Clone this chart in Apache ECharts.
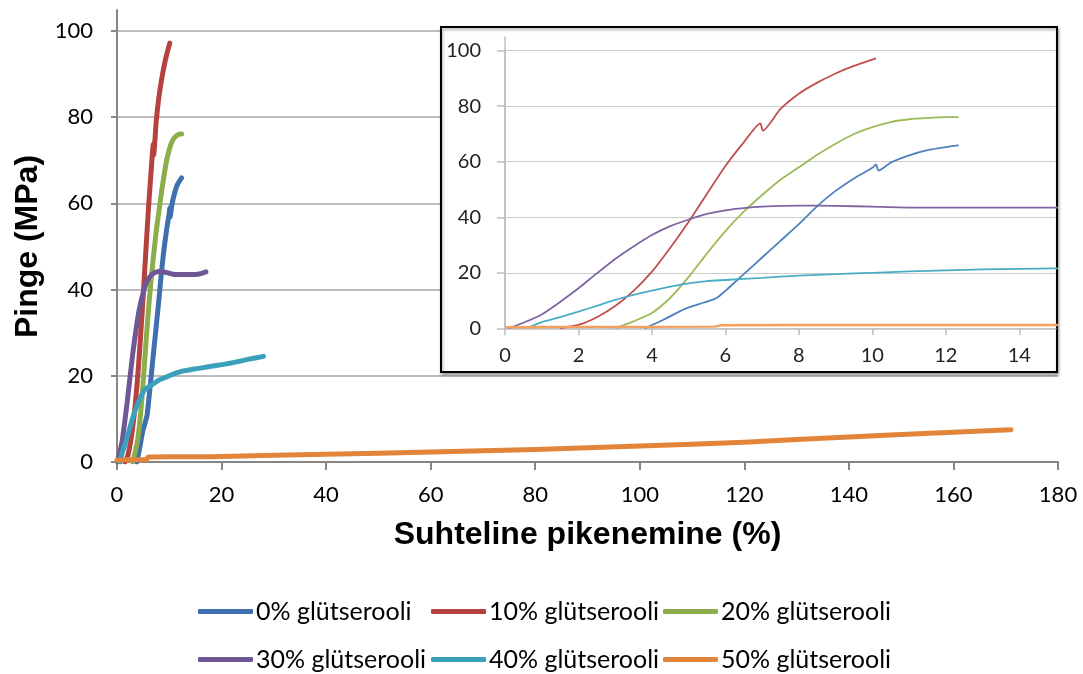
<!DOCTYPE html>
<html><head><meta charset="utf-8">
<script src="https://cdn.jsdelivr.net/npm/echarts@6/dist/echarts.min.js"></script>
<style>html,body{margin:0;padding:0;background:#fff}#c{width:1083px;height:674px}</style>
</head><body><div id="c"></div>
<script>
// ---- data ----
const seriesNames = ['0% glütserooli','10% glütserooli','20% glütserooli','30% glütserooli','40% glütserooli','50% glütserooli'];
const s0 = [[3.8,0],[4.3,3],[4.9,7],[5.4,9.2],[5.75,10.8],[6,13.5],[6.5,19.5],[7,25.5],[7.5,31.5],[8,37.5],[8.5,44],[9,49.5],[9.5,54],[10,57.8],[10.1,59],[10.17,56.8],[10.5,59.7],[11,62.3],[11.5,64.2],[12,65.3],[12.35,65.9]];
const s1 = [[1.5,0],[2,1.2],[2.5,4],[3,8],[3.5,13.5],[4,20.4],[4.5,29],[5,38.4],[5.5,48.5],[6,58.5],[6.5,67],[6.95,73.8],[7.02,71.2],[7.5,79],[8,84.5],[8.5,88.5],[9,91.8],[9.5,94.5],[10.1,97.2]];
const s2 = [[3,0],[3.5,2.5],[4,5.5],[4.5,11],[5,18.5],[5.5,27],[6,35],[6.5,42],[7,48],[7.5,53.5],[8,58],[8.5,62.5],[9,66.5],[9.5,70],[10,72.5],[10.5,74.3],[11,75.3],[11.5,75.8],[12,76.1],[12.35,76.1]];
const s3 = [[0.1,0],[0.5,2],[1,5],[1.5,9.5],[2,14.4],[2.5,19.8],[3,25],[3.5,29.5],[4,33.6],[4.5,36.8],[5,39.2],[5.5,41.2],[6,42.5],[6.5,43.3],[7,43.8],[8,44.2],[9,44.1],[10,43.8],[11,43.5],[13,43.5],[15,43.5],[16,43.7],[17,44.1]];
const s4 = [[0.6,0],[1,2.2],[1.5,4],[2,6],[2.5,8.1],[3,10.2],[3.5,12],[4,13.6],[4.5,15],[5,16.2],[5.5,17],[6,17.4],[7,18.2],[8,19],[9,19.5],[10,20],[11,20.5],[12,20.9],[13,21.2],[14,21.4],[15,21.6],[18,22.2],[22,23],[25,23.8],[28,24.5]];
const s5 = [[0,0.4],[2,0.5],[5.7,0.6],[5.9,1.1],[10,1.2],[15,1.2],[20,1.3],[40,1.8],[60,2.3],[80,2.9],[100,3.7],[120,4.6],[140,5.8],[160,6.9],[171,7.5]];
const seriesData = [s0,s1,s2,s3,s4,s5];
const mainColors = ['#3f6fae','#b5423f','#8bad4a','#6f5796','#3aa0bc','#e2853a'];
const insetColors = ['#4f81bd','#c0504d','#9bbb59','#8064a2','#4bacc6','#f5a05e'];

const LBL = 'Lato, "Open Sans", sans-serif';
const TTL = '"Liberation Sans", Arial, sans-serif';
const chart = echarts.init(document.getElementById('c'), null, {renderer:'canvas'});

const series = [];
seriesData.forEach((d,i)=>{
  series.push({name:seriesNames[i], type:'line', xAxisIndex:0, yAxisIndex:0, data:d, symbol:'none',
    smooth:0.2,
    lineStyle:{width:5,color:mainColors[i],cap:'round',join:'round'}, itemStyle:{color:mainColors[i]}, z:2, animation:false});
});
seriesData.forEach((d,i)=>{
  series.push({name:seriesNames[i], type:'line', xAxisIndex:3, yAxisIndex:3, data:d, symbol:'none', clip:true,
    smooth:0.2,
    lineStyle:{width:i===5?2.4:1.8,color:insetColors[i]}, itemStyle:{color:insetColors[i]}, z:6, animation:false});
});

const legendPos = [[198,599],[431,599],[663,599],[198,647],[431,647],[663,647]];
const legends = seriesNames.map((n,i)=>({
  left:legendPos[i][0], top:legendPos[i][1], padding:0, itemGap:0, itemWidth:55, itemHeight:5,
  icon:'roundRect', data:[n], selectedMode:false, textStyle:{fontFamily:LBL,fontSize:25,color:'#000',padding:[0,0,0,-2]}
}));

const gray='#868686';
chart.setOption({
  backgroundColor:'#fff',
  animation:false,
  legend:legends,
  grid:[
    {left:117, right:25, top:31, bottom:212},
    {left:117, width:1, top:10, bottom:212},
    {left:441, top:27, width:616, height:345, show:true, backgroundColor:'#fff', borderColor:'#000', borderWidth:2, z:3,
      shadowColor:'rgba(0,0,0,0.35)', shadowBlur:3, shadowOffsetX:1, shadowOffsetY:2},
    {left:505, right:27, top:50.7, bottom:345.7, z:4},
    {left:505, width:1, top:37, bottom:345.7, z:4}
  ],
  xAxis:[
    {gridIndex:0, type:'value', min:0, max:180, interval:20,
      axisLine:{lineStyle:{color:gray,width:2}}, axisTick:{show:true,inside:false,length:8,lineStyle:{color:gray,width:2}},
      axisLabel:{fontFamily:LBL,fontSize:22,color:'#000',margin:22}, splitLine:{show:false},
      name:'Suhteline pikenemine (%)', nameLocation:'middle', nameGap:57,
      nameTextStyle:{fontFamily:TTL,fontSize:32,fontWeight:'bold',color:'#000'}},
    {gridIndex:1, type:'value', show:false},
    {gridIndex:2, type:'value', show:false},
    {gridIndex:3, type:'value', min:0, max:15, interval:2, z:4,
      axisLine:{lineStyle:{color:'#bfbfbf',width:1.5}}, axisTick:{show:true,length:7,lineStyle:{color:'#bfbfbf',width:1.5}},
      axisLabel:{fontFamily:LBL,fontSize:20,color:'#222',margin:17,showMaxLabel:false}, splitLine:{show:false}},
    {gridIndex:4, type:'value', show:false}
  ],
  yAxis:[
    {gridIndex:0, type:'value', min:0, max:100, interval:20,
      axisLine:{show:true,lineStyle:{color:gray,width:2}}, axisTick:{show:true,length:6,lineStyle:{color:gray,width:2}},
      axisLabel:{fontFamily:LBL,fontSize:22,color:'#000',margin:24},
      splitLine:{show:true,lineStyle:{color:'#a6a6a6',width:1.5}},
      name:'Pinge (MPa)', nameLocation:'middle', nameGap:72,
      nameTextStyle:{fontFamily:TTL,fontSize:32,fontWeight:'bold',color:'#000'}},
    {gridIndex:1, type:'value', min:0, max:1, axisLine:{show:true,lineStyle:{color:gray,width:2}},
      axisTick:{show:false}, axisLabel:{show:false}, splitLine:{show:false}},
    {gridIndex:2, type:'value', show:false},
    {gridIndex:3, type:'value', min:0, max:100, interval:20, z:4,
      axisLine:{show:true,lineStyle:{color:'#bfbfbf',width:1.5}}, axisTick:{show:true,length:8,lineStyle:{color:'#bfbfbf',width:1.5}},
      axisLabel:{fontFamily:LBL,fontSize:20,color:'#222',margin:24},
      splitLine:{show:true,lineStyle:{color:'#cccccc',width:1}}},
    {gridIndex:4, type:'value', min:0, max:1, z:4, axisLine:{show:true,lineStyle:{color:'#bfbfbf',width:1.5}},
      axisTick:{show:false}, axisLabel:{show:false}, splitLine:{show:false}}
  ],
  series:series
});
</script></body></html>
